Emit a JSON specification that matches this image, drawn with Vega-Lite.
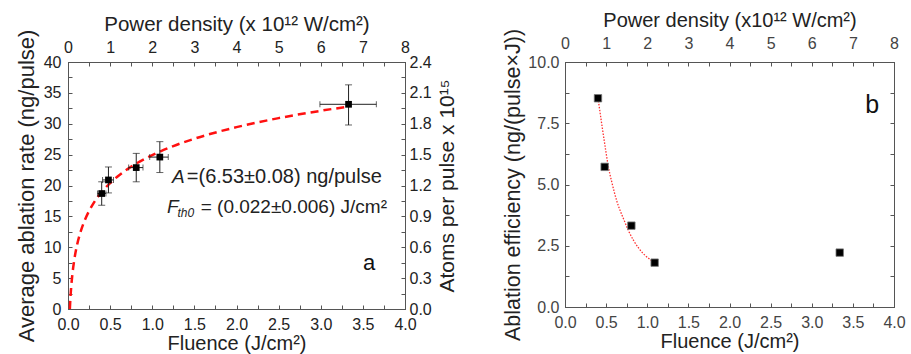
{
  "$schema": "https://vega.github.io/schema/vega-lite/v6.json",
  "background": "white",
  "padding": {"left": 14, "top": 9, "right": 5, "bottom": 0},
  "spacing": 44,
  "config": {
    "view": {"stroke": "#555", "strokeWidth": 1},
    "axis": {
      "grid": false,
      "domainColor": "#555",
      "tickColor": "#555",
      "tickSize": -4,
      "labelPadding": 10,
      "labelFont": "Liberation Sans",
      "titleFont": "Liberation Sans",
      "titleFontWeight": "normal",
      "labelFontSize": 16,
      "titleFontSize": 20,
      "labelColor": "#222",
      "titleColor": "#222",
      "labelOverlap": false,
      "labelFlush": false
    },
    "text": {"font": "Liberation Sans"}
  },
  "datasets": {
    "rate": [
      {"F": 0.40, "rate": 18.7, "rlo": 16.8, "rhi": 20.6, "flo": 0.35, "fhi": 0.45},
      {"F": 0.48, "rate": 20.9, "rlo": 18.8, "rhi": 23.0, "flo": 0.41, "fhi": 0.54},
      {"F": 0.81, "rate": 22.9, "rlo": 20.6, "rhi": 25.2, "flo": 0.72, "fhi": 0.89},
      {"F": 1.09, "rate": 24.6, "rlo": 22.1, "rhi": 27.1, "flo": 0.97, "fhi": 1.19},
      {"F": 3.33, "rate": 33.15, "rlo": 29.8, "rhi": 36.3, "flo": 2.99, "fhi": 3.66}
    ],
    "fitA": [
      {"F": 0.022, "y": 0}, {"F": 0.025, "y": 0.83}, {"F": 0.03, "y": 2.03}, {"F": 0.04, "y": 3.9},
      {"F": 0.05, "y": 5.36}, {"F": 0.07, "y": 7.56}, {"F": 0.1, "y": 9.89}, {"F": 0.15, "y": 12.53},
      {"F": 0.2, "y": 14.41}, {"F": 0.3, "y": 17.06}, {"F": 0.4, "y": 18.94}, {"F": 0.5, "y": 20.4},
      {"F": 0.6, "y": 21.59}, {"F": 0.8, "y": 23.47}, {"F": 1.0, "y": 24.92}, {"F": 1.25, "y": 26.38},
      {"F": 1.5, "y": 27.57}, {"F": 2.0, "y": 29.45}, {"F": 2.5, "y": 30.91}, {"F": 3.0, "y": 32.1},
      {"F": 3.3, "y": 32.72}
    ],
    "eff": [
      {"F": 0.401, "eff": 8.52},
      {"F": 0.482, "eff": 5.72},
      {"F": 0.807, "eff": 3.32},
      {"F": 1.09, "eff": 1.81},
      {"F": 3.34, "eff": 2.22}
    ],
    "fitB": [
      {"F": 0.401, "y": 8.54}, {"F": 0.45, "y": 7.39}, {"F": 0.49, "y": 6.5}, {"F": 0.523, "y": 5.8},
      {"F": 0.571, "y": 5.07}, {"F": 0.632, "y": 4.3}, {"F": 0.714, "y": 3.58}, {"F": 0.774, "y": 3.1},
      {"F": 0.896, "y": 2.4}, {"F": 1.058, "y": 1.88}
    ]
  },
  "hconcat": [
    {
      "width": 337,
      "height": 247,
      "resolve": {"scale": {"x": "independent", "y": "independent"}},
      "layer": [
        {
          "data": {"values": [{"F": 0, "r": 0}]},
          "mark": {"type": "point", "opacity": 0},
          "encoding": {
            "x": {"field": "F", "type": "quantitative", "scale": {"domain": [0, 4], "nice": false, "zero": false},
              "axis": {"orient": "bottom", "title": "Fluence (J/cm²)", "titlePadding": 1, "labelPadding": 11, "labelOverlap": false,
                "values": [0,0.25,0.5,0.75,1,1.25,1.5,1.75,2,2.25,2.5,2.75,3,3.25,3.5,3.75,4],
                "labelExpr": "(datum.value*2) % 1 == 0 ? format(datum.value,'.1f') : ''"}},
            "y": {"field": "r", "type": "quantitative", "scale": {"domain": [0, 40], "nice": false},
              "axis": {"orient": "left", "title": "Average ablation rate (ng/pulse)", "titlePadding": 5, "labelPadding": 11, "titleFontSize": 22, "labelOverlap": false,
                "values": [0,2.5,5,7.5,10,12.5,15,17.5,20,22.5,25,27.5,30,32.5,35,37.5,40],
                "labelExpr": "datum.value % 5 == 0 ? format(datum.value,'d') : ''"}}
          }
        },
        {
          "layer": [
            {
              "data": {"name": "fitA"},
              "mark": {"type": "line", "color": "#ff1010", "strokeWidth": 2.5, "strokeDash": [8, 5], "interpolate": "monotone"},
              "encoding": {
                "x": {"field": "F", "type": "quantitative", "scale": {"domain": [0, 4], "nice": false, "zero": false}, "axis": null},
                "y": {"field": "y", "type": "quantitative", "scale": {"domain": [0, 40], "nice": false}, "axis": null}
              }
            },
            {
              "data": {"name": "rate"},
              "mark": {"type": "rule", "color": "#222", "strokeWidth": 1},
              "encoding": {
                "x": {"field": "F", "type": "quantitative", "axis": null},
                "y": {"field": "rlo", "type": "quantitative", "axis": null},
                "y2": {"field": "rhi"}
              }
            },
            {
              "data": {"name": "rate"},
              "mark": {"type": "rule", "color": "#222", "strokeWidth": 1},
              "encoding": {
                "x": {"field": "flo", "type": "quantitative", "axis": null},
                "x2": {"field": "fhi"},
                "y": {"field": "rate", "type": "quantitative", "axis": null}
              }
            },
            {
              "data": {"name": "rate"},
              "mark": {"type": "tick", "orient": "horizontal", "color": "#222", "size": 7, "thickness": 1},
              "encoding": {
                "x": {"field": "F", "type": "quantitative", "axis": null},
                "y": {"field": "rlo", "type": "quantitative", "axis": null}
              }
            },
            {
              "data": {"name": "rate"},
              "mark": {"type": "tick", "orient": "horizontal", "color": "#222", "size": 7, "thickness": 1},
              "encoding": {
                "x": {"field": "F", "type": "quantitative", "axis": null},
                "y": {"field": "rhi", "type": "quantitative", "axis": null}
              }
            },
            {
              "data": {"name": "rate"},
              "mark": {"type": "tick", "orient": "vertical", "color": "#222", "size": 6, "thickness": 1},
              "encoding": {
                "x": {"field": "flo", "type": "quantitative", "axis": null},
                "y": {"field": "rate", "type": "quantitative", "axis": null}
              }
            },
            {
              "data": {"name": "rate"},
              "mark": {"type": "tick", "orient": "vertical", "color": "#222", "size": 6, "thickness": 1},
              "encoding": {
                "x": {"field": "fhi", "type": "quantitative", "axis": null},
                "y": {"field": "rate", "type": "quantitative", "axis": null}
              }
            },
            {
              "data": {"name": "rate"},
              "mark": {"type": "square", "color": "#000", "size": 45, "opacity": 1, "filled": true},
              "encoding": {
                "x": {"field": "F", "type": "quantitative", "axis": null},
                "y": {"field": "rate", "type": "quantitative", "axis": null}
              }
            },
            {
              "data": {"values": [{"F": 1.234, "r": 20.4, "t": "A"}, {"F": 1.175, "r": 15.55, "t": "F"}]},
              "mark": {"type": "text", "fontSize": 19, "fontStyle": "italic", "align": "left", "baseline": "alphabetic", "color": "#222"},
              "encoding": {
                "x": {"field": "F", "type": "quantitative", "axis": null},
                "y": {"field": "r", "type": "quantitative", "axis": null},
                "text": {"field": "t"}
              }
            },
            {
              "data": {"values": [{"F": 1.3, "r": 14.9, "t": "th0"}]},
              "mark": {"type": "text", "fontSize": 12, "fontStyle": "italic", "align": "left", "baseline": "alphabetic", "color": "#222"},
              "encoding": {
                "x": {"field": "F", "type": "quantitative", "axis": null},
                "y": {"field": "r", "type": "quantitative", "axis": null},
                "text": {"field": "t"}
              }
            },
            {
              "data": {"values": [{"F": 1.41, "r": 20.4, "t": "=(6.53±0.08) ng/pulse"}]},
              "mark": {"type": "text", "fontSize": 20, "align": "left", "baseline": "alphabetic", "color": "#222"},
              "encoding": {
                "x": {"field": "F", "type": "quantitative", "axis": null},
                "y": {"field": "r", "type": "quantitative", "axis": null},
                "text": {"field": "t"}
              }
            },
            {
              "data": {"values": [{"F": 1.575, "r": 15.55, "t": "= (0.022±0.006) J/cm²"}]},
              "mark": {"type": "text", "fontSize": 19, "align": "left", "baseline": "alphabetic", "color": "#222"},
              "encoding": {
                "x": {"field": "F", "type": "quantitative", "axis": null},
                "y": {"field": "r", "type": "quantitative", "axis": null},
                "text": {"field": "t"}
              }
            },
            {
              "data": {"values": [{"F": 3.5, "r": 6.3, "t": "a"}]},
              "mark": {"type": "text", "fontSize": 22, "align": "left", "baseline": "alphabetic", "color": "#111"},
              "encoding": {
                "x": {"field": "F", "type": "quantitative", "axis": null},
                "y": {"field": "r", "type": "quantitative", "axis": null},
                "text": {"field": "t"}
              }
            }
          ]
        },
        {
          "data": {"values": [{"P": 0, "atoms": 0}]},
          "mark": {"type": "point", "opacity": 0},
          "encoding": {
            "x": {"field": "P", "type": "quantitative", "scale": {"domain": [0, 8], "nice": false},
              "axis": {"orient": "top", "title": "Power density (x 10¹² W/cm²)", "titlePadding": 5, "labelPadding": 11, "titleFontSize": 20.5, "labelOverlap": false,
                "values": [0,0.5,1,1.5,2,2.5,3,3.5,4,4.5,5,5.5,6,6.5,7,7.5,8],
                "labelExpr": "datum.value % 1 == 0 ? format(datum.value,'d') : ''"}},
            "y": {"field": "atoms", "type": "quantitative", "scale": {"domain": [0, 2.4], "nice": false},
              "axis": {"orient": "right", "title": "Atoms per pulse x 10¹⁵", "titlePadding": 5, "titleAngle": 270, "titleBaseline": "top", "labelPadding": 8, "titleFontSize": 21, "labelOverlap": false,
                "values": [0,0.15,0.3,0.45,0.6,0.75,0.9,1.05,1.2,1.35,1.5,1.65,1.8,1.95,2.1,2.25,2.4],
                "labelExpr": "round(datum.value/0.15) % 2 == 0 ? format(datum.value,'.1f') : ''"}}
          }
        }
      ]
    },
    {
      "width": 329,
      "height": 245,
      "resolve": {"scale": {"x": "independent", "y": "independent"}},
      "layer": [
        {
          "data": {"values": [{"F": 0, "e": 0}]},
          "mark": {"type": "point", "opacity": 0},
          "encoding": {
            "x": {"field": "F", "type": "quantitative", "scale": {"domain": [0, 4], "nice": false, "zero": false},
              "axis": {"orient": "bottom", "title": "Fluence (J/cm²)", "titlePadding": 1, "labelPadding": 11, "labelColor": "#444", "labelOverlap": false,
                "values": [0,0.25,0.5,0.75,1,1.25,1.5,1.75,2,2.25,2.5,2.75,3,3.25,3.5,3.75,4],
                "labelExpr": "(datum.value*2) % 1 == 0 ? format(datum.value,'.1f') : ''"}},
            "y": {"field": "e", "type": "quantitative", "scale": {"domain": [0, 10], "nice": false},
              "axis": {"orient": "left", "title": "Ablation efficiency (ng/(pulse×J))", "titlePadding": 3, "labelColor": "#444", "titleFontSize": 21.5, "labelOverlap": false,
                "values": [0,1.25,2.5,3.75,5,6.25,7.5,8.75,10],
                "labelExpr": "round(datum.value/1.25) % 2 == 0 ? format(datum.value,'.1f') : ''"}}
          }
        },
        {
          "layer": [
            {
              "data": {"name": "fitB"},
              "mark": {"type": "line", "color": "#ff3030", "strokeWidth": 1.3, "strokeDash": [1.5, 1.5], "interpolate": "monotone"},
              "encoding": {
                "x": {"field": "F", "type": "quantitative", "scale": {"domain": [0, 4], "nice": false, "zero": false}, "axis": null},
                "y": {"field": "y", "type": "quantitative", "scale": {"domain": [0, 10], "nice": false}, "axis": null}
              }
            },
            {
              "data": {"name": "eff"},
              "mark": {"type": "square", "color": "#000", "size": 55, "opacity": 1, "filled": true, "stroke": "#777", "strokeWidth": 0.8},
              "encoding": {
                "x": {"field": "F", "type": "quantitative", "axis": null},
                "y": {"field": "eff", "type": "quantitative", "axis": null}
              }
            },
            {
              "data": {"values": [{"F": 3.65, "y": 7.92, "t": "b"}]},
              "mark": {"type": "text", "fontSize": 25, "align": "left", "baseline": "alphabetic", "color": "#111"},
              "encoding": {
                "x": {"field": "F", "type": "quantitative", "axis": null},
                "y": {"field": "y", "type": "quantitative", "axis": null},
                "text": {"field": "t"}
              }
            }
          ]
        },
        {
          "data": {"values": [{"P": 0, "e2": 0}]},
          "mark": {"type": "point", "opacity": 0},
          "encoding": {
            "x": {"field": "P", "type": "quantitative", "scale": {"domain": [0, 8], "nice": false},
              "axis": {"orient": "top", "title": "Power density  (x10¹² W/cm²)", "titlePadding": 5, "labelPadding": 15, "labelColor": "#444", "labelOverlap": false,
                "values": [0,0.5,1,1.5,2,2.5,3,3.5,4,4.5,5,5.5,6,6.5,7,7.5,8],
                "labelExpr": "datum.value % 1 == 0 ? format(datum.value,'d') : ''"}},
            "y": {"field": "e2", "type": "quantitative", "scale": {"domain": [0, 10], "nice": false},
              "axis": {"orient": "right", "title": null, "labels": false,
                "values": [0,1.25,2.5,3.75,5,6.25,7.5,8.75,10]}}
          }
        }
      ]
    }
  ]
}
